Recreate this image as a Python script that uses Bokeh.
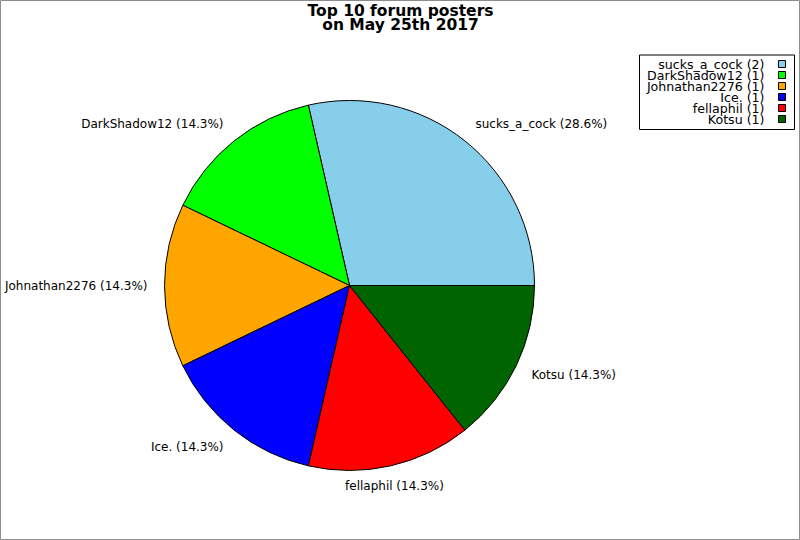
import math
from bokeh.plotting import figure
from bokeh.models import Range1d, ColumnDataSource
from bokeh.core.properties import value
from bokeh.embed import file_html
from bokeh.resources import INLINE

names = ["sucks_a_cock", "DarkShadow12", "Johnathan2276", "Ice.", "fellaphil", "Kotsu"]
posts = [2, 1, 1, 1, 1, 1]
colors = ["#87ceeb", "#00ff00", "#ffa500", "#0000ff", "#ff0000", "#006400"]
title_lines = ["Top 10 forum posters", "on May 25th 2017"]

W, H = 800, 540


def X(px):
    return px


def Y(py):
    return H - py


FONT = value("DejaVu Sans")

p = figure(width=W, height=H, output_backend="svg", toolbar_location=None,
           x_range=Range1d(0, W), y_range=Range1d(0, H), min_border=0)
p.axis.visible = False
p.grid.visible = False
p.outline_line_color = "#8c8c8c"
p.outline_line_width = 1
p.background_fill_color = "white"
p.border_fill_color = "white"

total = sum(posts)
starts, ends, mids = [], [], []
acc = 0.0
for v in posts:
    a0 = acc / total * 2 * math.pi
    acc += v
    a1 = acc / total * 2 * math.pi
    starts.append(a0)
    ends.append(a1)
    mids.append((a0 + a1) / 2)

cx, cy, r = X(349), Y(285), 185
src = ColumnDataSource(dict(start=starts, end=ends, color=colors))
p.wedge(x=cx, y=cy, radius=r, start_angle="start", end_angle="end",
        fill_color="color", line_color="black", line_width=1, source=src)

# slice labels
lrx, lry = 202, 206
lx, ly, lt, la = [], [], [], []
for n, v, m in zip(names, posts, mids):
    c = math.cos(m)
    lx.append(cx + lrx * c)
    ly.append(cy + lry * math.sin(m))
    lt.append(f"{n} ({v / total * 100:.1f}%)")
    la.append("left" if c > 0.4 else ("right" if c < -0.4 else "center"))
p.text(x=lx, y=ly, text=lt, text_align=la, text_baseline="middle",
       text_font=FONT, text_font_size="12px", text_color="black")

# title
p.text(x=[W / 2, W / 2], y=[Y(10.5), Y(24.5)], text=title_lines, text_align="center",
       text_baseline="middle", text_font=FONT, text_font_size="15.5px",
       text_font_style="bold", text_color="black")

# legend box
bx0, bx1, by0, by1 = X(639), X(794), Y(54.5), Y(129)
p.quad(left=bx0, right=bx1, bottom=by1, top=by0, fill_color="white",
       line_color="black", line_width=1)
rows_y = [Y(63.5 + i * 11) for i in range(len(names))]
p.text(x=[X(764)] * len(names), y=rows_y,
       text=[f"{n} ({v})" for n, v in zip(names, posts)],
       text_align="right", text_baseline="middle", text_font=FONT,
       text_font_size="12.6px", text_color="black")
p.rect(x=[X(781.5)] * len(names), y=rows_y, width=7, height=7,
       fill_color=colors, line_color="black", line_width=1)

open("out.html", "w").write(file_html(p, INLINE))
